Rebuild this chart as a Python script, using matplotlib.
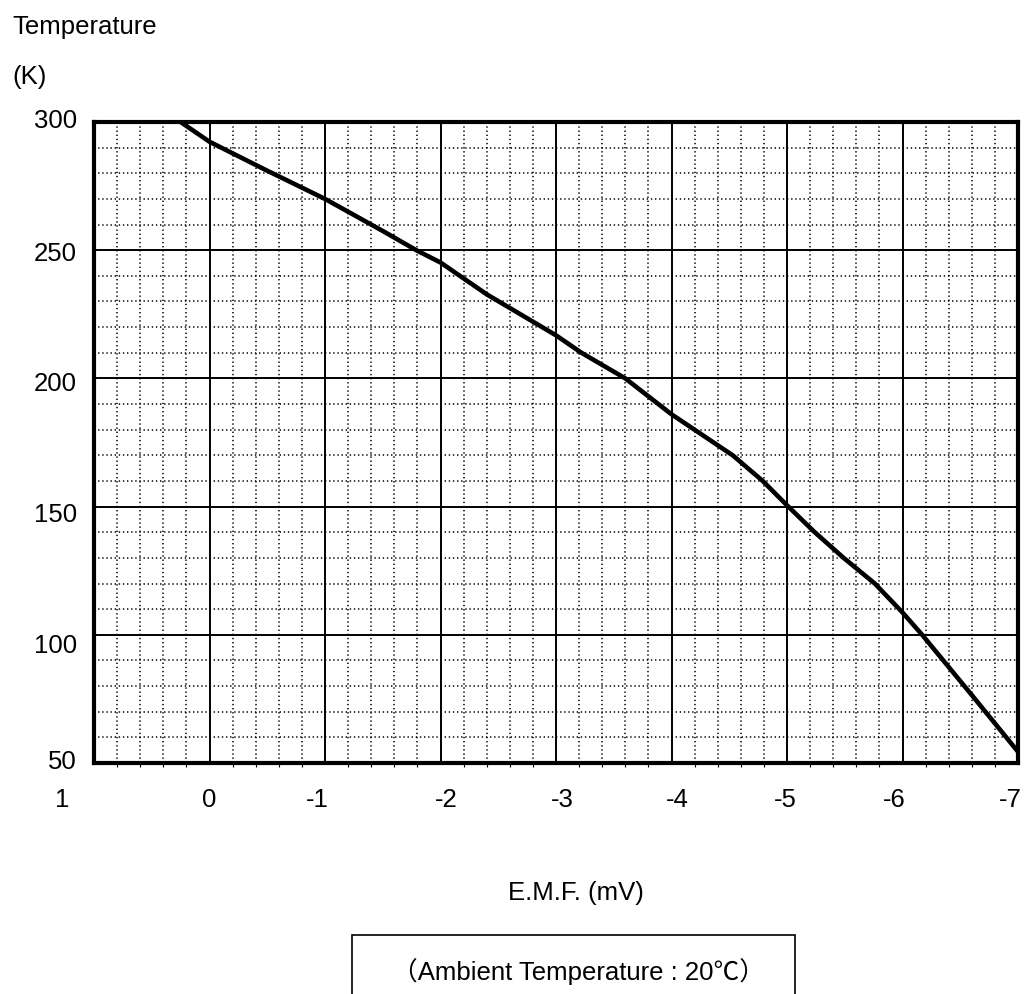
import matplotlib
matplotlib.use("Agg")
import matplotlib.pyplot as plt
from matplotlib.patches import Rectangle
from matplotlib.ticker import MultipleLocator

plt.rcParams['font.family'] = ['Liberation Sans', 'Noto Sans CJK JP', 'DejaVu Sans']

# Data
emf = [0.25, 0.0, -0.5, -1.0, -1.5, -1.79, -2.0, -2.4, -3.0, -3.22, -3.6, -4.0,
       -4.53, -4.79, -5.0, -5.24, -5.49, -5.76, -6.0, -6.17, -6.6, -7.0]
temp = [300, 292.3, 281, 270, 257.5, 250, 245.2, 232.8, 216.8, 210, 200, 186,
        170, 160, 150.5, 140, 130, 120, 108.7, 100, 76.5, 54.4]

x_ticks = [1, 0, -1, -2, -3, -4, -5, -6, -7]
x_labels = ['1', '0', '-1', '-2', '-3', '-4', '-5', '-6', '-7']
y_ticks = [300, 250, 200, 150, 100, 50]
y_labels = ['300', '250', '200', '150', '100', '50']

# pixel nudges of the tick labels as drawn in the original
x_label_dx = [-32, 0, -8, 6, 6, 6, -2, -8, -8]
y_label_dy = [1, -4, -6, -8, -11, 1]

W, H = 1035, 994
fig = plt.figure(figsize=(W / 100, H / 100), dpi=100)
ax = fig.add_axes([94 / W, 1 - 763 / H, (1018 - 94) / W, (763 - 122) / H])

ax.set_xlim(1, -7)
ax.set_ylim(50, 300)

ax.xaxis.set_major_locator(MultipleLocator(1))
ax.xaxis.set_minor_locator(MultipleLocator(0.2))
ax.yaxis.set_major_locator(MultipleLocator(50))
ax.yaxis.set_minor_locator(MultipleLocator(10))

ax.grid(which='major', color='black', lw=1.4)
ax.grid(which='minor', color='black', lw=1.1, linestyle=(0, (0.9, 1.8)))
ax.set_axisbelow(True)

ax.tick_params(axis='both', which='both', labelbottom=False, labelleft=False)
ax.tick_params(axis='x', which='major', length=0)
ax.tick_params(axis='x', which='minor', direction='out', length=3, width=0.8)
ax.tick_params(axis='y', which='both', length=0)

for sp in ax.spines.values():
    sp.set_linewidth(3)
    sp.set_color('black')

ax.plot(emf, temp, color='black', lw=3.3, solid_capstyle='butt', zorder=3)

fs = 18.5
for v, lab, dx in zip(x_ticks, x_labels, x_label_dx):
    ax.annotate(lab, xy=(v, 0), xycoords=('data', 'axes fraction'),
                xytext=(dx, -37), textcoords='offset pixels',
                ha='center', va='center', fontsize=fs)
for v, lab, dy in zip(y_ticks, y_labels, y_label_dy):
    ax.annotate(lab, xy=(0, v), xycoords=('axes fraction', 'data'),
                xytext=(-17, dy), textcoords='offset pixels',
                ha='right', va='center', fontsize=fs)

fig.text(12 / W, 1 - 27 / H, 'Temperature', ha='left', va='center', fontsize=fs)
fig.text(12 / W, 1 - 77 / H, '(K)', ha='left', va='center', fontsize=fs)
fig.text(576 / W, 1 - 893 / H, 'E.M.F. (mV)', ha='center', va='center', fontsize=fs)

rect = Rectangle((352 / W, 1 - 1010 / H), (795 - 352) / W, (1010 - 935) / H,
                 transform=fig.transFigure, fill=False, edgecolor='black', lw=1.2)
fig.patches.append(rect)
fig.text(578 / W, 1 - 972 / H, '（Ambient Temperature : 20℃）', ha='center',
         va='center', fontsize=fs)

fig.savefig('out.png', dpi=100)
